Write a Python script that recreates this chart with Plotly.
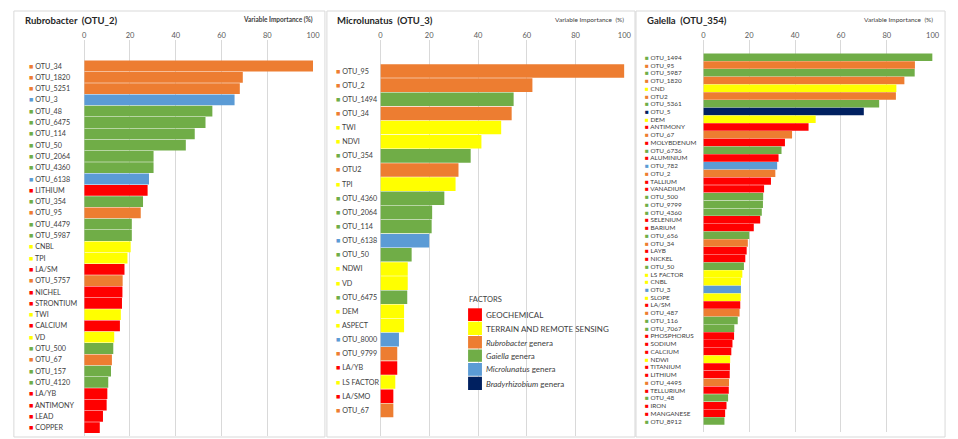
import plotly.graph_objects as go

W, H = 958, 439

# Factor colours
COLORS = {
    "GEO": "#FF0000",
    "TER": "#FFFF00",
    "RUB": "#ED7D31",
    "GAI": "#70AD47",
    "MIC": "#5B9BD5",
    "BRA": "#002060",
}

# ---- Rubrobacter (OTU_2) ----
rub_vars = ["OTU_34", "OTU_1820", "OTU_5251", "OTU_3", "OTU_48", "OTU_6475", "OTU_114", "OTU_50",
            "OTU_2064", "OTU_4360", "OTU_6138", "LITHIUM", "OTU_354", "OTU_95", "OTU_4479", "OTU_5987",
            "CNBL", "TPI", "LA/SM", "OTU_5757", "NICHEL", "STRONTIUM", "TWI", "CALCIUM", "VD",
            "OTU_500", "OTU_67", "OTU_157", "OTU_4120", "LA/YB", "ANTIMONY", "LEAD", "COPPER"]
rub_vals = [100, 69.3, 68, 65.7, 56, 53, 48.3, 44.4, 30.3, 30.3, 28.3, 27.7, 25.7, 24.7, 20.8, 20.8,
            20.3, 18.9, 17.6, 16.8, 16.7, 16.5, 16, 15.6, 13.1, 12.7, 12.1, 11.7, 10.5, 10.1, 9.8, 8.2, 6.8]
rub_types = ["RUB", "RUB", "RUB", "MIC", "GAI", "GAI", "GAI", "GAI", "GAI", "GAI", "MIC", "GEO", "GAI",
             "RUB", "GAI", "GAI", "TER", "TER", "GEO", "RUB", "GEO", "GEO", "TER", "GEO", "TER", "GAI",
             "RUB", "GAI", "GAI", "GEO", "GEO", "GEO", "GEO"]

# ---- Microlunatus (OTU_3) ----
mic_vars = ["OTU_95", "OTU_2", "OTU_1494", "OTU_34", "TWI", "NDVI", "OTU_354", "OTU2", "TPI",
            "OTU_4360", "OTU_2064", "OTU_114", "OTU_6138", "OTU_50", "NDWI", "VD", "OTU_6475", "DEM",
            "ASPECT", "OTU_8000", "OTU_9799", "LA/YB", "LS FACTOR", "LA/SMO", "OTU_67"]
mic_vals = [100, 62.3, 54.6, 53.8, 49.5, 41.4, 37, 32, 30.8, 26.2, 21.2, 21, 20, 12.8, 11.2, 11.2,
            11, 9.7, 9.7, 7.6, 6.9, 6.9, 6.1, 5.3, 5.3]
mic_types = ["RUB", "RUB", "GAI", "RUB", "TER", "TER", "GAI", "RUB", "TER", "GAI", "GAI", "GAI", "MIC",
             "GAI", "TER", "TER", "GAI", "TER", "TER", "MIC", "RUB", "GEO", "TER", "GEO", "RUB"]

# ---- Galella (OTU_354) ----
gal_vars = ["OTU_1494", "OTU_95", "OTU_5987", "OTU_1820", "CND", "OTU2", "OTU_5361", "OTU_5", "DEM",
            "ANTIMONY", "OTU_67", "MOLYBDENUM", "OTU_6736", "ALUMINIUM", "OTU_782", "OTU_2", "TALLIUM",
            "VANADIUM", "OTU_500", "OTU_9799", "OTU_4360", "SELENIUM", "BARIUM", "OTU_656", "OTU_34",
            "LAYB", "NICKEL", "OTU_50", "LS FACTOR", "CNBL", "OTU_3", "SLOPE", "LA/SM", "OTU_487",
            "OTU_116", "OTU_7067", "PHOSPHORUS", "SODIUM", "CALCIUM", "NDWI", "TITANIUM", "LITHIUM",
            "OTU_4495", "TELLURIUM", "OTU_48", "IRON", "MANGANESE", "OTU_8912"]
gal_vals = [100, 92.3, 92.2, 87.7, 84.2, 84.0, 76.7, 70, 49, 45.9, 38.7, 35.6, 34.1, 32.8, 32.2, 31.4,
            29.5, 26.5, 26.1, 26, 25.5, 24.8, 22, 20, 19.4, 18.9, 18.3, 17.7, 17, 16.4, 16.4, 16.3,
            16.1, 15.8, 15, 13.5, 13.4, 12.7, 12.2, 11.7, 11.6, 11.5, 11.2, 11.1, 10.8, 10.1, 9.5, 9.2]
gal_types = ["GAI", "RUB", "GAI", "RUB", "TER", "RUB", "GAI", "BRA", "TER", "GEO", "RUB", "GEO", "GAI",
             "GEO", "MIC", "RUB", "GEO", "GEO", "GAI", "GAI", "GAI", "GEO", "GEO", "GAI", "RUB", "GEO",
             "GEO", "GAI", "TER", "TER", "MIC", "TER", "GEO", "RUB", "GAI", "GAI", "GEO", "GEO", "GEO",
             "TER", "GEO", "GEO", "RUB", "GEO", "GAI", "GEO", "GEO", "GAI"]

legend_labels = ["GEOCHEMICAL", "TERRAIN AND REMOTE SENSING", "<i>Rubrobacter</i> genera",
                 "<i>Gaiella</i> genera", "<i>Microlunatus</i> genera", "<i>Bradyrhizobium</i> genera"]
legend_keys = ["GEO", "TER", "RUB", "GAI", "MIC", "BRA"]

FONT = "Lato, 'Open Sans', sans-serif"


def px_x(p):
    return p / W


def px_y(p):
    return 1 - p / H


# panel layout: (title, vars, vals, types, box x0, box x1, axis x0, axis x1,
#                label x, grid top, grid bottom, first row centre, row step, title x, label size)
panels = [
    ("Rubrobacter  (OTU_2)", rub_vars, rub_vals, rub_types, 12, 326, 83, 314, 25, 40, 436, 66.0, 11.30, 21, 7.2),
    ("Microlunatus  (OTU_3)", mic_vars, mic_vals, mic_types, 328, 639, 382, 628.3, 335, 40, 436, 71.0, 14.14, 336, 7.2),
    ("Galella  (OTU_354)", gal_vars, gal_vals, gal_types, 640, 952, 708, 939.4, 647, 40, 432, 57.3, 7.74, 649, 6.4),
]

fig = go.Figure()
annotations = []
shapes = []
layout_axes = {}

for k, (title, names, vals, types, bx0, bx1, ax0, ax1, lx, gt, gb, c0, step, tx, fs) in enumerate(panels, start=1):
    xa = "x" if k == 1 else f"x{k}"
    ya = "y" if k == 1 else f"y{k}"
    fig.add_trace(go.Bar(
        x=vals, y=names, orientation="h",
        marker=dict(color=[COLORS[t] for t in types], line=dict(width=0)),
        xaxis=xa, yaxis=ya, hoverinfo="skip", showlegend=False,
    ))
    # row index 0 sits at the top of the plotting area
    span = (gb - gt) / step
    top_val = -(c0 - gt) / step
    bot_val = top_val + span
    layout_axes["xaxis" if k == 1 else f"xaxis{k}"] = dict(
        domain=[px_x(ax0), px_x(ax1)], range=[0, 100], anchor=ya, side="top",
        tickvals=[0, 20, 40, 60, 80, 100], showgrid=True, gridcolor="#D9D9D9", gridwidth=1,
        zeroline=True, zerolinecolor="#D9D9D9", zerolinewidth=1, showline=False, ticks="",
        tickfont=dict(size=7.5, color="#595959", family=FONT), fixedrange=True,
    )
    layout_axes["yaxis" if k == 1 else f"yaxis{k}"] = dict(
        domain=[px_y(gb), px_y(gt)], anchor=xa, type="category",
        range=[bot_val, top_val], showticklabels=False, showgrid=False, zeroline=False,
        showline=False, ticks="", fixedrange=True,
    )
    # category labels with a colour key square
    for i, (n, t) in enumerate(zip(names, types)):
        annotations.append(dict(
            x=px_x(lx), xref="paper", xanchor="left", y=i, yref=ya, yanchor="middle",
            text=f"<span style='color:{COLORS[t]}'>■</span> {n}", showarrow=False,
            font=dict(size=fs, color="#404040", family=FONT),
        ))
    # panel title and axis title
    annotations.append(dict(
        x=px_x(tx), xref="paper", xanchor="left", y=px_y(21), yref="paper", yanchor="middle",
        text=f"<b>{title}</b>", showarrow=False, font=dict(size=9.5, color="#262626", family=FONT),
    ))
    annotations.append(dict(
        x=px_x(ax1 + 2), xref="paper", xanchor="right", y=px_y(20), yref="paper", yanchor="middle",
        text=("<b>Variable Importance (%)</b>" if k == 1 else "Variable Importance  (%)"),
        showarrow=False, font=dict(size=6.5, color="#404040", family=FONT),
    ))
    # panel frame
    shapes.append(dict(type="rect", xref="paper", yref="paper",
                       x0=px_x(bx0), x1=px_x(bx1), y0=px_y(437), y1=px_y(11),
                       line=dict(color="#D9D9D9", width=1), fillcolor="rgba(0,0,0,0)", layer="below"))

# factor key
annotations.append(dict(x=px_x(469), xref="paper", xanchor="left", y=px_y(299), yref="paper",
                        yanchor="middle", text="FACTORS", showarrow=False,
                        font=dict(size=7.5, color="#404040", family=FONT)))
sw_top = [308.3, 321.7, 336.0, 349.5, 363.0, 376.7]
sw_bot = [321.0, 335.0, 348.5, 361.8, 375.8, 390.0]
lab_y = [314.5, 328.5, 342.5, 355.5, 369.0, 383.5]
for key, lab, t0, t1, yy in zip(legend_keys, legend_labels, sw_top, sw_bot, lab_y):
    shapes.append(dict(type="rect", xref="paper", yref="paper", x0=px_x(470.5), x1=px_x(484.5),
                       y0=px_y(t1), y1=px_y(t0), fillcolor=COLORS[key], line=dict(width=0)))
    annotations.append(dict(x=px_x(486.5), xref="paper", xanchor="left", y=px_y(yy), yref="paper",
                            yanchor="middle", text=lab, showarrow=False,
                            font=dict(size=8, color="#404040", family=FONT)))

fig.update_layout(
    width=W, height=H, margin=dict(l=0, r=0, t=0, b=0),
    paper_bgcolor="white", plot_bgcolor="rgba(0,0,0,0)",
    bargap=0.04, showlegend=False,
    annotations=annotations, shapes=shapes,
    font=dict(family=FONT),
    **layout_axes,
)

fig.write_html("out.html", config={"displayModeBar": False})
